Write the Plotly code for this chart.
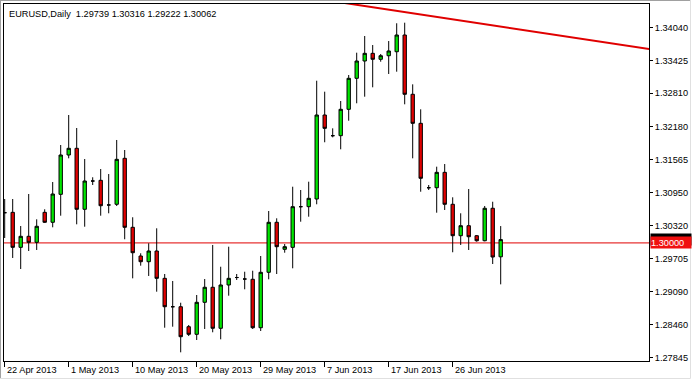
import plotly.graph_objects as go

# ---------------- data ----------------
symbol = "EURUSD,Daily"
dates = [
    "2013-04-22", "2013-04-23", "2013-04-24", "2013-04-25", "2013-04-26", "2013-04-28",
    "2013-04-29", "2013-04-30", "2013-05-01", "2013-05-02", "2013-05-03", "2013-05-05",
    "2013-05-06", "2013-05-07", "2013-05-08", "2013-05-09", "2013-05-10", "2013-05-12",
    "2013-05-13", "2013-05-14", "2013-05-15", "2013-05-16", "2013-05-17", "2013-05-19",
    "2013-05-20", "2013-05-21", "2013-05-22", "2013-05-23", "2013-05-24", "2013-05-26",
    "2013-05-27", "2013-05-28", "2013-05-29", "2013-05-30", "2013-05-31", "2013-06-02",
    "2013-06-03", "2013-06-04", "2013-06-05", "2013-06-06", "2013-06-07", "2013-06-09",
    "2013-06-10", "2013-06-11", "2013-06-12", "2013-06-13", "2013-06-14", "2013-06-16",
    "2013-06-17", "2013-06-18", "2013-06-19", "2013-06-20", "2013-06-21", "2013-06-23",
    "2013-06-24", "2013-06-25", "2013-06-26", "2013-06-27", "2013-06-28", "2013-06-30",
    "2013-07-01", "2013-07-02", "2013-07-03",
]
opens = [
    1.30567, 1.30574, 1.29917, 1.30124, 1.30011, 1.30574, 1.30387, 1.30912, 1.31650, 1.31776,
    1.30631, 1.31162, 1.31175, 1.30712, 1.30725, 1.31588, 1.30293, 1.29754, 1.29647, 1.29848,
    1.29335, 1.28802, 1.28802, 1.28427, 1.28284, 1.28885, 1.29167, 1.28397, 1.29210, 1.29350,
    1.29322, 1.29317, 1.28408, 1.29448, 1.30387, 1.29880, 1.29917, 1.30680, 1.30680, 1.30824,
    1.32401, 1.32013, 1.32013, 1.32508, 1.33090, 1.33415, 1.33559, 1.33447, 1.33514, 1.33589,
    1.33903, 1.32790, 1.32245, 1.31036, 1.31036, 1.31325, 1.30725, 1.30135, 1.30323, 1.30135,
    1.30041, 1.30650, 1.29739,
]
highs = [
    1.30824, 1.30824, 1.30317, 1.30918, 1.30443, 1.30631, 1.31143, 1.31838, 1.32401, 1.32157,
    1.31575, 1.31232, 1.31387, 1.31293, 1.31932, 1.31744, 1.30481, 1.29805, 1.29993, 1.30274,
    1.29416, 1.29285, 1.28877, 1.28459, 1.29022, 1.29322, 1.29961, 1.29553, 1.29929, 1.29416,
    1.29459, 1.29478, 1.29754, 1.30599, 1.30462, 1.29979, 1.31055, 1.30993, 1.31149, 1.33045,
    1.32839, 1.32151, 1.32664, 1.33152, 1.33571, 1.33884, 1.33715, 1.33546, 1.33790, 1.34123,
    1.34134, 1.32977, 1.32508, 1.31087, 1.31431, 1.31481, 1.30856, 1.30556, 1.31012, 1.30148,
    1.30693, 1.30773, 1.30316,
]
lows = [
    1.30092, 1.29717, 1.29510, 1.29848, 1.29867, 1.30374, 1.30293, 1.30511, 1.31588, 1.30349,
    1.30304, 1.31087, 1.30511, 1.30556, 1.30693, 1.30068, 1.29335, 1.29572, 1.29379, 1.29084,
    1.28408, 1.28427, 1.27946, 1.28252, 1.28177, 1.28384, 1.28322, 1.28190, 1.29009, 1.29304,
    1.29129, 1.28384, 1.28346, 1.29317, 1.29416, 1.29816, 1.29523, 1.30398, 1.30492, 1.30725,
    1.31889, 1.31982, 1.31757, 1.32294, 1.32621, 1.32745, 1.32921, 1.33402, 1.33171, 1.33214,
    1.32602, 1.31588, 1.30961, 1.30993, 1.30567, 1.30618, 1.29824, 1.29961, 1.29867, 1.30023,
    1.30030, 1.29604, 1.29222,
]
closes = [
    1.30567, 1.29917, 1.30124, 1.30011, 1.30312, 1.30387, 1.30918, 1.31650, 1.31776, 1.30631,
    1.31162, 1.31162, 1.30698, 1.30712, 1.31569, 1.30293, 1.29816, 1.29647, 1.29848, 1.29335,
    1.28802, 1.28802, 1.28239, 1.28284, 1.28885, 1.29167, 1.28397, 1.29210, 1.29335, 1.29350,
    1.29322, 1.28408, 1.29448, 1.30387, 1.29929, 1.29929, 1.30680, 1.30680, 1.30837, 1.32401,
    1.32151, 1.32013, 1.32508, 1.33090, 1.33415, 1.33559, 1.33447, 1.33514, 1.33603, 1.33903,
    1.32790, 1.32245, 1.31213, 1.31036, 1.31325, 1.30725, 1.30135, 1.30323, 1.30116, 1.30041,
    1.30650, 1.29735, 1.30062,
]
tick_dates = ["2013-04-22", "2013-05-01", "2013-05-10", "2013-05-20",
              "2013-05-29", "2013-06-07", "2013-06-17", "2013-06-26"]
tick_labels = ["22 Apr 2013", "1 May 2013", "10 May 2013", "20 May 2013",
               "29 May 2013", "7 Jun 2013", "17 Jun 2013", "26 Jun 2013"]
price_ticks = [1.27845, 1.28460, 1.29090, 1.29705, 1.30320, 1.30950,
               1.31565, 1.32180, 1.32810, 1.33425, 1.34040]
level_price = 1.30000
bid_price = 1.30062
trend_idx = [38, 84]
trend_price = [1.34606, 1.33561]

# ---------------- styling ----------------
FONT = "Liberation Sans"
FS = 9.2
BULL = "#00e600"
BEAR = "#e00000"

fig = go.Figure()
fig.add_trace(go.Candlestick(
    x=dates, open=opens, high=highs, low=lows, close=closes,
    increasing=dict(fillcolor=BULL, line=dict(color="black", width=1)),
    decreasing=dict(fillcolor=BEAR, line=dict(color="black", width=1)),
    whiskerwidth=0, showlegend=False, hoverinfo="x+y",
))

shapes = [
    # support level line
    dict(type="line", xref="paper", yref="y", x0=0, x1=1, y0=level_price, y1=level_price,
         line=dict(color="#e00000", width=1), layer="below"),
    # trend line
    dict(type="line", xref="x", yref="y", x0=trend_idx[0], x1=trend_idx[1],
         y0=trend_price[0], y1=trend_price[1], line=dict(color="#e00000", width=2)),
    # outer window border
    dict(type="line", xref="paper", yref="paper", x0=-0.0062, x1=1.0636, y0=1.0098, y1=1.0098,
         line=dict(color="#a0a0a0", width=1)),
    dict(type="line", xref="paper", yref="paper", x0=-0.0054, x1=-0.0054, y0=1.0112, y1=-0.049,
         line=dict(color="#a0a0a0", width=1)),
    dict(type="line", xref="paper", yref="paper", x0=1.0643, x1=1.0643, y0=1.0112, y1=-0.049,
         line=dict(color="#e0e0e0", width=1)),
    dict(type="line", xref="paper", yref="paper", x0=-0.0062, x1=1.0643, y0=-0.049, y1=-0.049,
         line=dict(color="#e0e0e0", width=1)),
]

annotations = []
for d, t in zip(tick_dates, tick_labels):
    annotations.append(dict(x=d, xref="x", y=0, yref="paper", text=t, showarrow=False,
                            xanchor="left", yanchor="top", yshift=-2, xshift=0,
                            font=dict(family=FONT, size=FS, color="black")))
title_text = (f"{symbol}\u00a0\u00a0{opens[-1]:.5f} {highs[-1]:.5f} "
              f"{lows[-1]:.5f} {closes[-1]:.5f}")
annotations.append(dict(x=0, xref="paper", y=1, yref="paper", text=title_text,
                        showarrow=False, xanchor="left", yanchor="top", xshift=3, yshift=-3,
                        font=dict(family=FONT, size=FS, color="black")))
# bid price tag (mostly hidden behind the level tag)
annotations.append(dict(x=1, xref="paper", y=bid_price, yref="y", text="\u00a0",
                        showarrow=False, xanchor="left", yanchor="middle", xshift=1,
                        width=40, height=11, borderpad=0, align="left", bgcolor="black",
                        font=dict(family=FONT, size=FS, color="black")))
annotations.append(dict(x=1, xref="paper", y=level_price, yref="y", text=f"{level_price:.5f}",
                        showarrow=False, xanchor="left", yanchor="middle", xshift=1,
                        width=40, height=11, borderpad=0, align="left", bgcolor="#f01010",
                        font=dict(family=FONT, size=FS, color="white")))

fig.update_layout(
    width=693, height=381,
    margin=dict(l=4, r=44, t=4, b=20),
    paper_bgcolor="white", plot_bgcolor="white",
    boxgap=0.4,
    shapes=shapes, annotations=annotations,
    font=dict(family=FONT, size=FS, color="black"),
    xaxis=dict(type="category", range=[-0.0875, 80.5375], rangeslider=dict(visible=False),
               showgrid=False, zeroline=False, showline=True, linecolor="black", linewidth=1,
               mirror=True, ticks="outside", ticklen=5, tickcolor="black", tickwidth=1,
               tickvals=tick_dates, showticklabels=False, fixedrange=True),
    yaxis=dict(side="right", range=[1.27783, 1.34485], showgrid=False, zeroline=False,
               showline=True, linecolor="black", linewidth=1, mirror=True,
               ticks="outside", ticklen=3, tickcolor="black", tickwidth=1,
               tickvals=price_ticks, ticktext=[f"{v:.5f}" for v in price_ticks],
               tickfont=dict(family=FONT, size=FS, color="black"), fixedrange=True),
)

fig.write_html("out.html")
